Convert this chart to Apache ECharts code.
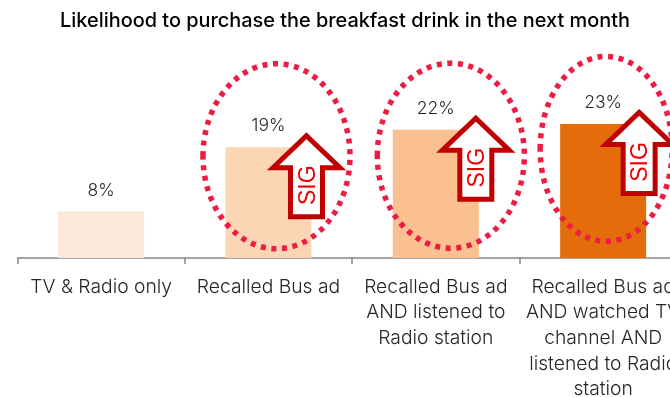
<!DOCTYPE html>
<html>
<head>
<meta charset="utf-8">
<style>html,body{margin:0;padding:0;background:#fff}#c{width:670px;height:397px}</style>
<script src="https://cdn.jsdelivr.net/npm/echarts@6/dist/echarts.min.js"></script>
</head>
<body>
<div id="c"></div>
<script>
const titleText = 'Likelihood to purchase the breakfast drink in the next month';
const categories = [
  'TV & Radio only',
  'Recalled Bus ad',
  'Recalled Bus ad\nAND listened to\nRadio station',
  'Recalled Bus ad\nAND watched TV\nchannel AND\nlistened to Radio\nstation'
];
const values = [8, 19, 22, 23];
const barColors = ['#fde9d9', '#fcd5b5', '#fac090', '#e46c0a'];
const significant = [false, true, true, true];
const sigLabel = 'SIG';
const FONT = 'Inter, Roboto, sans-serif';

// Placement of each callout relative to its bar: ring centre and arrow tip offsets, ring radii.
const calloutPlacement = [
  null,
  { ringDx: 8, ringDy: 9, rx: 73.5, ry: 92.5, arrowDx: 38 },
  { ringDx: 15, ringDy: 26, rx: 73.5, ry: 92.5, arrowDx: 40 },
  { ringDx: 3, ringDy: 25, rx: 66, ry: 92.5, arrowDx: 36 }
];

const chart = echarts.init(document.getElementById('c'));

// Callout for a significant bar: dotted ring around it and an up arrow on its right shoulder.
function renderCallout(params, api) {
  const i = api.value(0);
  const top = api.coord([i, api.value(1)]);
  const p = calloutPlacement[i];
  const ax = top[0] + p.arrowDx;
  const ay = top[1] - 14;
  return {
    type: 'group',
    children: [
      {
        type: 'ellipse',
        shape: { cx: top[0] + p.ringDx, cy: top[1] + p.ringDy, rx: p.rx, ry: p.ry },
        style: { fill: 'none', stroke: '#ee1c43', lineWidth: 5.5, lineDash: [5, 5.6] }
      },
      {
        type: 'polygon',
        shape: { points: [
          [ax, ay + 2.5], [ax + 33.5, ay + 34.5], [ax + 16, ay + 34.5], [ax + 16, ay + 83.5],
          [ax - 16, ay + 83.5], [ax - 16, ay + 34.5], [ax - 33.5, ay + 34.5]
        ] },
        style: { fill: '#fff', stroke: '#c00000', lineWidth: 5, lineJoin: 'miter', miterLimit: 10 }
      },
      {
        type: 'text',
        x: ax + 1.8, y: ay + 52,
        rotation: Math.PI / 2,
        style: { text: sigLabel, font: '23px "Liberation Sans", sans-serif', fill: '#ee0000', align: 'center', verticalAlign: 'middle' }
      }
    ]
  };
}

chart.setOption({
  animation: false,
  title: {
    text: titleText, left: 340, top: 6, textAlign: 'center',
    textStyle: { fontFamily: FONT, fontSize: 19.9, fontWeight: 500, color: '#000' }
  },
  grid: { left: 17.5, top: 24.8, width: 669.3, height: 233.2, outerBoundsMode: 'none' },
  xAxis: {
    type: 'category',
    data: categories,
    boundaryGap: true,
    axisLine: { lineStyle: { color: '#868686', width: 1.5 } },
    axisTick: { show: true, length: 6, lineStyle: { color: '#868686', width: 1.5 } },
    axisLabel: { interval: 0, margin: 16, lineHeight: 25.7, fontFamily: FONT, fontSize: 19.3, fontWeight: 300, color: '#262626', align: 'center' }
  },
  yAxis: { type: 'value', min: 0, max: 40, show: false },
  series: [
    {
      type: 'bar',
      barWidth: 86,
      data: values.map((v, i) => ({ value: v, itemStyle: { color: barColors[i] } })),
      label: {
        show: true, position: 'top', distance: 12, formatter: '{c}%',
        fontFamily: FONT, fontSize: 17.5, fontWeight: 300, color: '#262626'
      }
    },
    {
      type: 'custom',
      renderItem: renderCallout,
      clip: false,
      silent: true,
      z: 5,
      data: values.map((v, i) => [i, v]).filter((d, i) => significant[i])
    }
  ]
});
</script>
</body>
</html>
